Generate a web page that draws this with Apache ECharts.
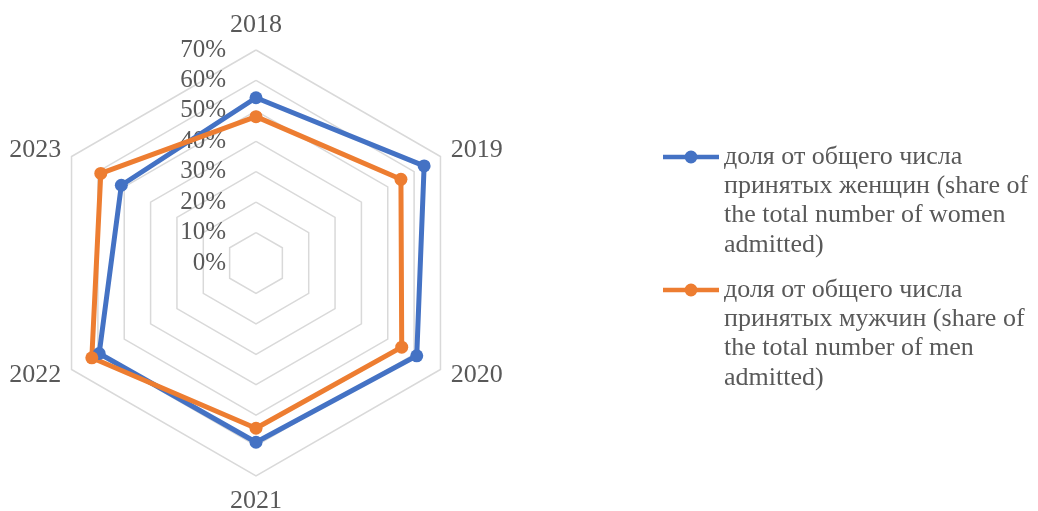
<!DOCTYPE html>
<html>
<head>
<meta charset="utf-8">
<script src="https://cdn.jsdelivr.net/npm/echarts@6/dist/echarts.min.js"></script>
<style>
html,body{margin:0;padding:0;background:#fff;}
#chart{width:1038px;height:511px;}
</style>
</head>
<body>
<div id="chart"></div>
<script>
const years = ['2018', '2019', '2020', '2021', '2022', '2023'];
const women = [54.3, 63.8, 61.0, 58.9, 59.5, 51.1];
const men = [48.1, 55.0, 55.3, 54.3, 62.3, 58.9];
const seriesNames = [
  'доля от общего числа\nпринятых женщин (share of\nthe total number of women\nadmitted)',
  'доля от общего числа\nпринятых мужчин (share of\nthe total number of men\nadmitted)'
];
const axisMax = 70;
const axisSplits = 7;

// ECharts places indicators counter-clockwise; Excel goes clockwise
const order = [0, 5, 4, 3, 2, 1];
const pick = arr => order.map(i => arr[i]);

const FONT = '"Liberation Serif", "Times New Roman", serif';
const GREY = '#595959';
const BLUE = '#4472C4';
const ORANGE = '#ED7D31';

const iconPath = 'path://M0,4.25 H23 V8.75 H0 Z M33,4.25 H56 V8.75 H33 Z M21.5,6.5 a6.5,6.5 0 1,1 13,0 a6.5,6.5 0 1,1 -13,0 Z';
const LH = 29.3;

const legendBase = {
  orient: 'vertical',
  left: 663,
  padding: 0,
  itemWidth: 56,
  itemHeight: 13,
  icon: iconPath,
  // leading blank lines so the icon lines up with the first text line
  formatter: name => '\n\n\n' + name,
  textStyle: {fontFamily: FONT, fontSize: 26, color: GREY, lineHeight: LH}
};

const chart = echarts.init(document.getElementById('chart'), null, {renderer: 'canvas'});
chart.setOption({
  animation: false,
  backgroundColor: '#fff',
  color: [BLUE, ORANGE],
  legend: [
    Object.assign({}, legendBase, {data: [seriesNames[0]], top: 157 - 3.5 * LH}),
    Object.assign({}, legendBase, {data: [seriesNames[1]], top: 290 - 3.5 * LH})
  ],
  radar: {
    center: [256, 263],
    radius: 213,
    startAngle: 90,
    splitNumber: axisSplits,
    shape: 'polygon',
    nameGap: 12,
    axisName: {color: GREY, fontFamily: FONT, fontSize: 26},
    indicator: pick(years).map((y, k) => {
      const ind = {name: y, min: 0, max: axisMax};
      if (k === 0) {
        ind.axisLabel = {
          show: true, fontFamily: FONT, fontSize: 25, color: GREY, margin: 30,
          formatter: v => v + '%'
        };
      }
      return ind;
    }),
    axisLine: {show: false},
    axisTick: {show: false},
    axisLabel: {show: false},
    splitArea: {show: false},
    splitLine: {lineStyle: {color: '#D9D9D9', width: 1.5}}
  },
  series: [{
    type: 'radar',
    symbol: 'circle',
    symbolSize: 13,
    data: [
      {name: seriesNames[0], value: pick(women),
       lineStyle: {color: BLUE, width: 5}, itemStyle: {color: BLUE}},
      {name: seriesNames[1], value: pick(men),
       lineStyle: {color: ORANGE, width: 5}, itemStyle: {color: ORANGE}}
    ]
  }]
});
</script>
</body>
</html>
